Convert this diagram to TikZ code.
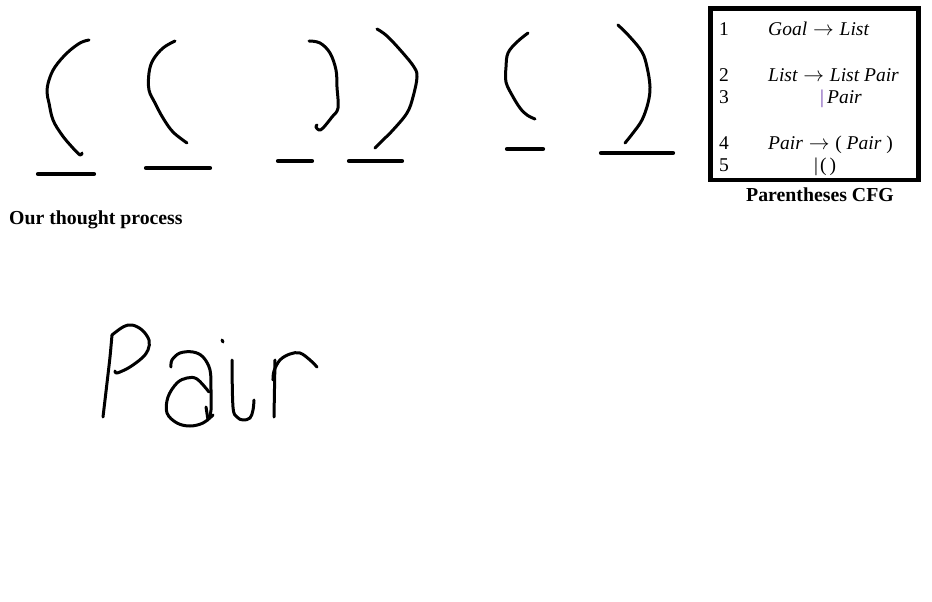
\documentclass[tikz,border=0pt]{standalone}
\usepackage{fontspec}
\setmainfont{Liberation Serif}
\usepackage{tikz}
\usetikzlibrary{positioning}
\definecolor{ink}{HTML}{000000}
\definecolor{barpurple}{HTML}{7040B0}
\newcommand{\goesto}{\kern1pt$\rightarrow$\kern1pt}
\tikzset{
  pen/.style={draw=ink, line width=3pt, line cap=round, line join=round},
  blank/.style={draw=ink, line width=4.2pt, line cap=round},
  cfgbox/.style={draw=ink, line width=4.6pt},
  rule/.style={anchor=base west, inner sep=0pt, font=\fontsize{19.5}{22}\selectfont\itshape},
  num/.style={anchor=base west, inner sep=0pt, font=\fontsize{19.5}{22}\selectfont},
  caption/.style={anchor=base west, inner sep=0pt, font=\fontsize{19.8}{22}\selectfont\bfseries},
}
\begin{document}
\begin{tikzpicture}[x=1pt, y=-1pt]
  \useasboundingbox (0,0) rectangle (932,602);

  % brackets drawn by hand, each with its blank below
  \draw[pen] plot[smooth, tension=0.6] coordinates {(89,40) (80,43) (67,53) (55,67) (49,80) (47,92) (49,103) (53,120) (62,135) (72,147) (80,155) (82,153)};
  \draw[blank] (38,174) -- (94,174);

  \draw[pen] plot[smooth, tension=0.6] coordinates {(175,41) (163,48) (153,60) (149,73) (149,90) (155,103) (163,118) (173,132) (187,143)};
  \draw[blank] (146,168) -- (210,168);

  \draw[pen] plot[smooth, tension=0.6] coordinates {(309,41) (320,43) (330,53) (336,70) (337,87) (338,108) (332,117) (323,128) (319,130) (316,127) (317,125)};
  \draw[blank] (278,161) -- (312,161);

  \draw[pen] plot[smooth, tension=0.6] coordinates {(377,29) (387,36) (402,52) (414,67) (417,77) (413,97) (407,113) (393,130) (383,140) (375,148)};
  \draw[blank] (349,161) -- (402,161);

  \draw[pen] plot[smooth, tension=0.6] coordinates {(528,33) (517,42) (508,53) (506,67) (506,82) (512,95) (520,108) (527,115) (535,119)};
  \draw[blank] (507,149) -- (543,149);

  \draw[pen] plot[smooth, tension=0.6] coordinates {(618,25) (630,37) (642,52) (647,67) (650,87) (648,103) (642,120) (633,133) (625,143)};
  \draw[blank] (601,153) -- (673,153);

  \node[caption] (thought) at (9,224) {Our thought process};

  % grammar box
  \draw[cfgbox] (710.5,8.5) rectangle (918.5,180);
  \node[num] (n1) at (719,35.5) {1};
  \node[num] (n2) at (719,81.5) {2};
  \node[num] (n3) at (719,103.5) {3};
  \node[num] (n4) at (719,149.5) {4};
  \node[num] (n5) at (719,171.5) {5};
  \node[rule] (r1) at (768,35.5) {Goal \goesto{} List};
  \node[rule] (r2) at (768,81.5) {List \goesto{} List Pair};
  \node[rule] (r3) at (820,103.5) {{\upshape\color{barpurple}|}\kern3pt Pair};
  \node[rule] (r4) at (768,149.5) {Pair \goesto{} {\upshape(} Pair {\upshape)}};
  \node[rule] (r5) at (814,171.5) {\upshape|\kern2pt(\kern3pt)};
  \node[caption] (cfg) at (746,201) {Parentheses CFG};

  % the word Pair written by hand
  \draw[pen] plot[smooth, tension=0.5] coordinates {(112,335) (110,357) (107,383) (103,417)};
  \draw[pen] plot[smooth, tension=0.6] coordinates {(112,335) (123,327) (132,325) (142,330) (149,340) (148,350) (142,358) (130,367) (120,372) (116,373) (115,371)};
  \draw[pen] plot[smooth, tension=0.6] coordinates {(171,367) (172,360) (180,353) (193,352) (203,357) (210,370) (211,390) (211,410) (209,418)};
  \draw[pen] plot[smooth, tension=0.6] coordinates {(209,392) (197,379) (187,378) (177,383) (168,397) (167,413) (177,423) (190,426) (203,423) (213,415)};
  \draw[pen] (206,407) -- (208,420);
  \draw[pen] (222,340) -- (223,342);
  \draw[pen] plot[smooth, tension=0.6] coordinates {(232,360) (233,407) (237,417) (243,420) (250,418) (253,410) (254,400)};
  \draw[pen] (275,360) -- (274,417);
  \draw[pen] plot[smooth, tension=0.6] coordinates {(273,380) (274,371) (280,360) (290,354) (300,353) (310,360) (317,367)};
\end{tikzpicture}
\end{document}
